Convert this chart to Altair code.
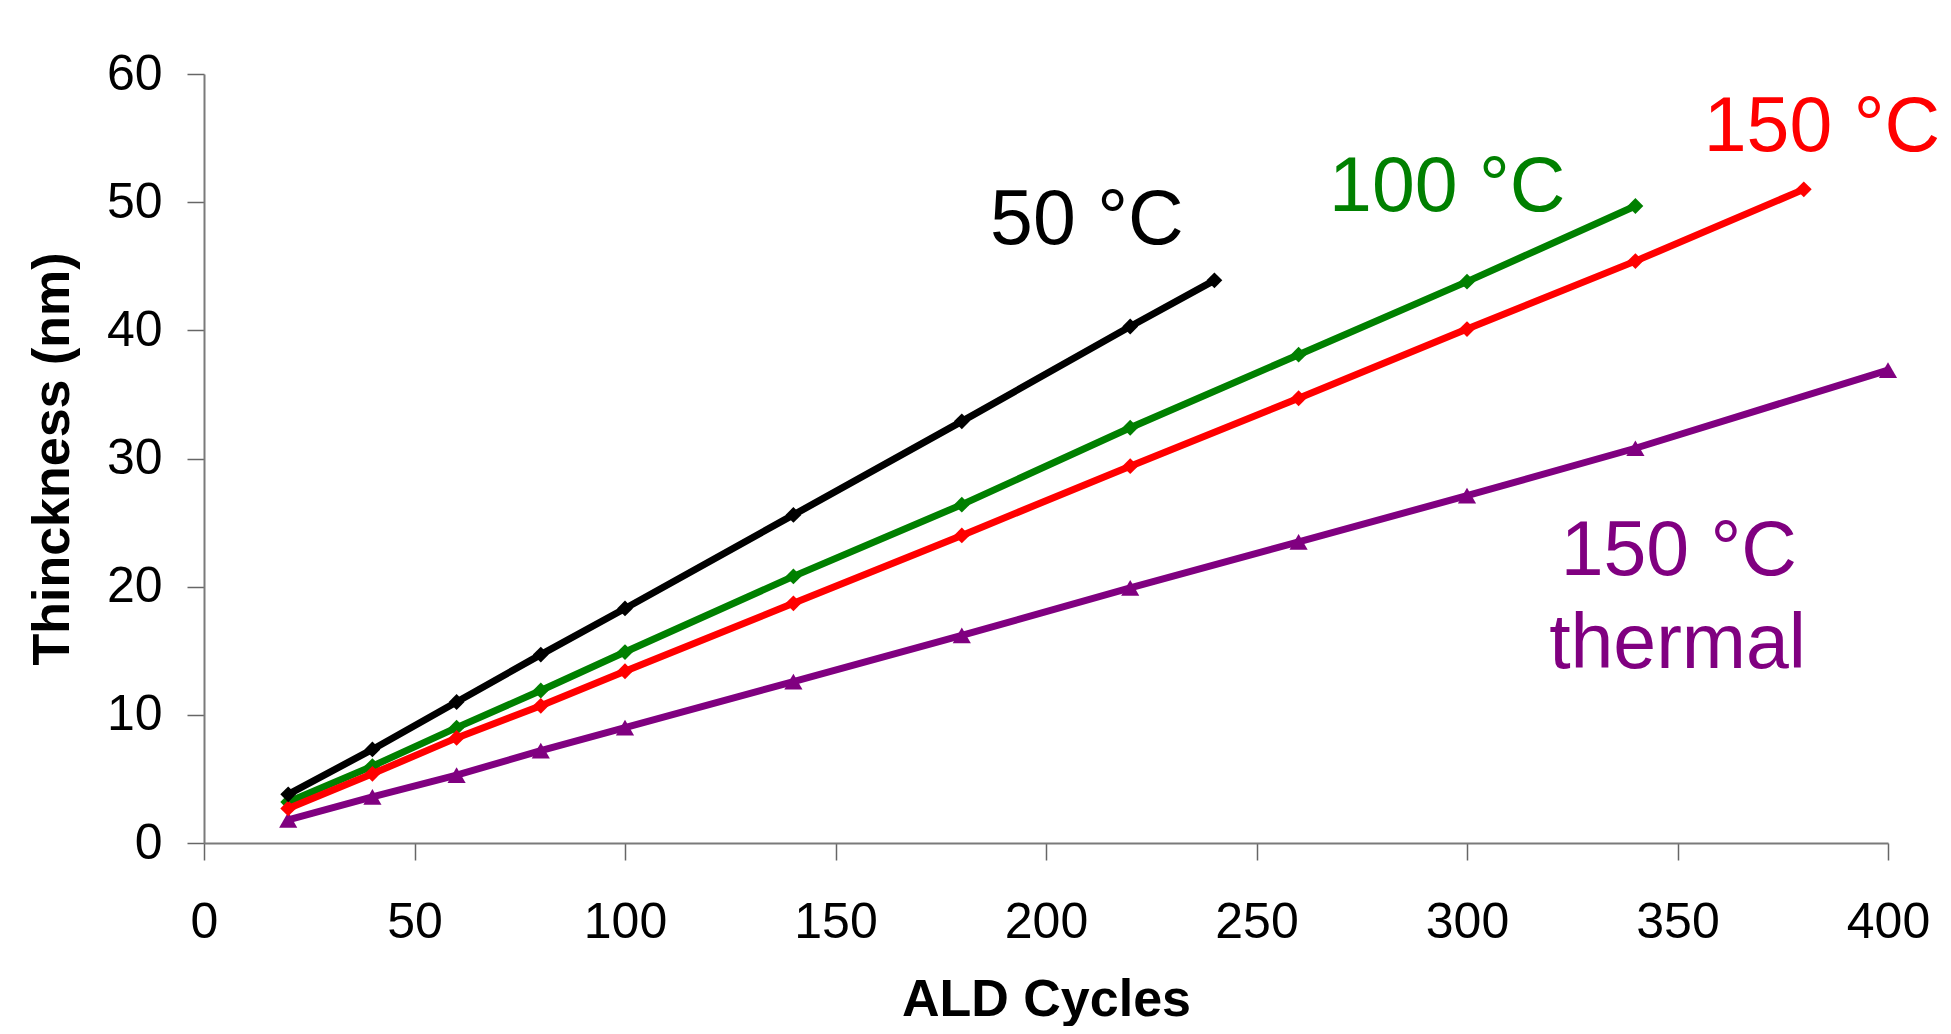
import altair as alt
import pandas as pd

# ---- data ----
cycles_50 = [20, 40, 60, 80, 100, 140, 180, 220, 240]
thick_50 = [3.8, 7.3, 11.0, 14.7, 18.3, 25.6, 32.9, 40.3, 43.9]

cycles_100 = [20, 40, 60, 80, 100, 140, 180, 220, 260, 300, 340]
thick_100 = [3.2, 6.0, 9.0, 11.9, 14.9, 20.8, 26.4, 32.4, 38.1, 43.8, 49.7]

cycles_150 = [20, 40, 60, 80, 100, 140, 180, 220, 260, 300, 340, 380]
thick_150 = [2.7, 5.4, 8.2, 10.7, 13.4, 18.7, 24.0, 29.4, 34.7, 40.1, 45.4, 51.0]

cycles_th = [20, 40, 60, 80, 100, 140, 180, 220, 260, 300, 340, 400]
thick_th = [1.8, 3.6, 5.3, 7.2, 9.0, 12.6, 16.2, 19.9, 23.5, 27.1, 30.8, 36.9]

label_text = ["50 °C", "100 °C", "150 °C", "150 °C", "thermal"]
label_x = [209.7, 295.3, 384.3, 350.3, 350.0]
label_y = [46.75, 49.3, 54.0, 20.9, 13.66]
label_color = ["#000000", "#008000", "#FF0000", "#800080", "#800080"]

FONT = "Liberation Sans"

xscale = alt.Scale(domain=[0, 400], nice=False, zero=False)
yscale = alt.Scale(domain=[0, 60], nice=False)

xaxis = alt.Axis(
    title="ALD Cycles", values=list(range(0, 401, 50)), grid=False,
    labelFont=FONT, labelFontSize=50, labelColor="#000000", labelPadding=37,
    labelFlush=False,
    titleFont=FONT, titleFontSize=52, titleFontWeight="bold", titleColor="#000000",
    titlePadding=27, domainColor="#7a7a7a", domainWidth=2,
    tickColor="#666666", tickWidth=1.5, tickSize=17,
)
yaxis = alt.Axis(
    title="Thinckness (nm)", values=list(range(0, 61, 10)), grid=False,
    labelFont=FONT, labelFontSize=50, labelColor="#000000", labelPadding=25,
    labelFlush=False,
    titleFont=FONT, titleFontSize=52, titleFontWeight="bold", titleColor="#000000",
    titlePadding=27, domainColor="#7a7a7a", domainWidth=2,
    tickColor="#666666", tickWidth=1.5, tickSize=17,
)

X = alt.X("x:Q", scale=xscale, axis=xaxis)
Y = alt.Y("y:Q", scale=yscale, axis=yaxis)

series = [
    (cycles_th, thick_th, "#800080", "triangle-up", 330),
    (cycles_100, thick_100, "#008000", "diamond", 250),
    (cycles_150, thick_150, "#FF0000", "diamond", 250),
    (cycles_50, thick_50, "#000000", "diamond", 250),
]

layers = []
for xs, ys, col, shape, size in series:
    df = pd.DataFrame({"x": xs, "y": ys})
    base = alt.Chart(df)
    line = base.mark_line(color=col, strokeWidth=7).encode(x=X, y=Y)
    pts = base.mark_point(shape=shape, filled=True, color=col, size=size, opacity=1).encode(x=X, y=Y)
    layers += [line, pts]

lab_df = pd.DataFrame({"t": label_text, "x": label_x, "y": label_y, "c": label_color})
labels = alt.Chart(lab_df).mark_text(
    font=FONT, fontSize=77, align="center", baseline="alphabetic"
).encode(
    x=X, y=Y,
    text="t:N",
    color=alt.Color("c:N", scale=None, legend=None),
)
layers.append(labels)

chart = alt.layer(*layers).properties(
    width=1684, height=769,
    autosize=alt.AutoSizeParams(type="none"),
    padding={"left": 196, "top": 66, "right": 54, "bottom": 183},
    background="white",
).configure_view(stroke=None)

chart.save("out.html", embed_options={"renderer": "svg", "actions": False})
